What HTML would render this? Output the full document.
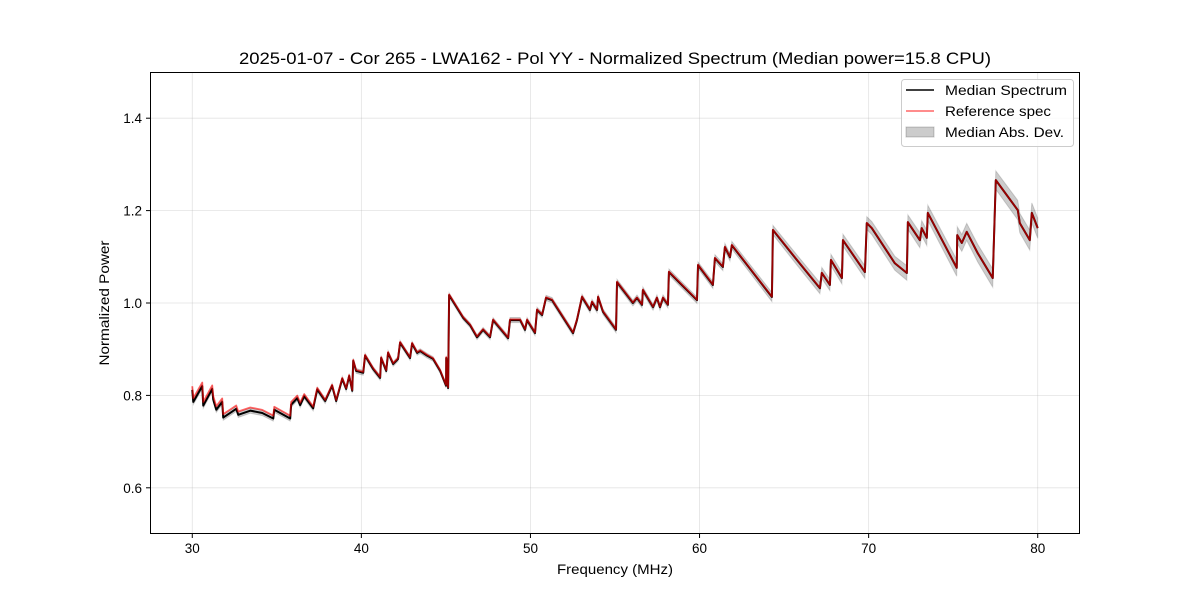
<!DOCTYPE html>
<html><head><meta charset="utf-8"><style>
body{margin:0;background:#fff;}
svg text{font-family:"Liberation Sans","DejaVu Sans",sans-serif;fill:#000;}
</style></head><body>
<svg id="chart" width="1200" height="600" xmlns="http://www.w3.org/2000/svg">
<rect width="1200" height="600" fill="#fff"/>
<text x="615" y="64" font-size="16.5" text-anchor="middle" textLength="752" lengthAdjust="spacingAndGlyphs">2025-01-07 - Cor 265 - LWA162 - Pol YY - Normalized Spectrum (Median power=15.8 CPU)</text>
<g id="grid"></g>
<g id="plot"></g>
<rect x="150.5" y="72.5" width="929" height="461" fill="none" stroke="#000" stroke-width="1"/>
<g id="xticks"></g>
<g id="yticks"></g>
<text x="615" y="574" font-size="13.5" text-anchor="middle" textLength="116" lengthAdjust="spacingAndGlyphs">Frequency (MHz)</text>
<text x="109" y="303" font-size="13.5" text-anchor="middle" textLength="125" lengthAdjust="spacingAndGlyphs" transform="rotate(-90 109 303)">Normalized Power</text>
<g>
<rect x="901.5" y="79.5" width="172" height="67" rx="3" fill="#fff" fill-opacity="0.8" stroke="#ccc"/>
<line x1="906" y1="90" x2="934" y2="90" stroke="#000" stroke-width="1.5"/>
<text x="945" y="95" font-size="13.5" textLength="122" lengthAdjust="spacingAndGlyphs">Median Spectrum</text>
<line x1="906" y1="111" x2="934" y2="111" stroke="#ff0000" stroke-opacity="0.6" stroke-width="1.5"/>
<text x="945" y="116" font-size="13.5" textLength="106" lengthAdjust="spacingAndGlyphs">Reference spec</text>
<rect x="906" y="127" width="28" height="10" fill="#000" fill-opacity="0.2" stroke="#000" stroke-opacity="0.2"/>
<text x="945" y="137" font-size="13.5" textLength="119" lengthAdjust="spacingAndGlyphs">Median Abs. Dev.</text>
</g>
</svg>
<script>
const freqs=[30.00,30.06,30.59,30.65,31.18,31.24,31.42,31.77,31.83,32.36,32.60,32.72,33.43,34.14,34.79,34.85,35.79,35.85,36.21,36.38,36.62,37.15,37.39,37.86,38.27,38.51,38.87,39.10,39.28,39.46,39.52,39.69,40.11,40.22,40.70,41.11,41.17,41.47,41.58,41.88,42.17,42.29,42.88,43.00,43.30,43.48,43.89,44.24,44.66,45.01,45.02,45.13,45.19,46.02,46.43,46.84,47.20,47.61,47.79,48.68,48.79,49.39,49.68,49.80,50.27,50.39,50.69,50.92,51.28,52.52,52.75,53.05,53.52,53.64,53.94,54.00,54.29,55.06,55.12,56.06,56.30,56.60,56.65,57.25,57.48,57.66,57.84,58.13,58.19,58.84,59.85,59.91,60.79,60.91,61.38,61.50,61.80,61.91,64.28,64.34,65.76,67.12,67.23,67.71,67.77,68.42,68.48,69.78,69.89,70.19,71.55,72.26,72.32,73.03,73.14,73.44,73.50,75.21,75.24,75.51,75.80,76.45,77.34,77.52,78.82,78.94,79.53,79.65,80.00];
const median=[0.812,0.786,0.820,0.778,0.814,0.791,0.769,0.786,0.752,0.765,0.771,0.758,0.767,0.762,0.750,0.769,0.750,0.780,0.794,0.779,0.798,0.772,0.813,0.788,0.821,0.788,0.836,0.814,0.842,0.810,0.875,0.853,0.849,0.886,0.857,0.838,0.881,0.853,0.892,0.868,0.879,0.914,0.881,0.912,0.892,0.896,0.886,0.879,0.853,0.821,0.881,0.816,1.017,0.968,0.952,0.926,0.942,0.926,0.963,0.924,0.963,0.963,0.942,0.963,0.935,0.985,0.974,1.011,1.006,0.935,0.963,1.013,0.985,1.002,0.985,1.013,0.981,0.942,1.045,1.000,1.011,0.996,1.028,0.991,1.011,0.991,1.011,0.996,1.067,1.043,1.006,1.082,1.039,1.097,1.078,1.121,1.099,1.125,1.013,1.158,1.093,1.032,1.065,1.039,1.093,1.054,1.136,1.067,1.173,1.162,1.086,1.065,1.175,1.136,1.162,1.141,1.195,1.076,1.147,1.130,1.154,1.108,1.054,1.266,1.201,1.173,1.136,1.195,1.162];
const refOffsetFreqs=[30,36,38,80];
const refOffsetVals=[0.008,0.006,0.002,0.0];
const madFreqs=[30,45,60,70,80];
const madVals=[0.006,0.005,0.007,0.014,0.022];
const xTicks=[30,40,50,60,70,80];
const yTicks=[0.6,0.8,1.0,1.2,1.4];
const X0=27.5,X1=82.5,Y0=0.5,Y1=1.5,L=150,R=1080,T=72,B=534;
const xs=f=>L+(f-X0)/(X1-X0)*(R-L);
const ys=v=>B-(v-Y0)/(Y1-Y0)*(B-T);
const NS="http://www.w3.org/2000/svg";
function interp(fa,va,f){for(let i=1;i<fa.length;i++){if(f<=fa[i]){const t=(f-fa[i-1])/(fa[i]-fa[i-1]);return va[i-1]+t*(va[i]-va[i-1]);}}return va[va.length-1];}
function mk(tag,attrs,parent){const e=document.createElementNS(NS,tag);for(const k in attrs)e.setAttribute(k,attrs[k]);parent.appendChild(e);return e;}
const grid=document.getElementById('grid'),plot=document.getElementById('plot'),xt=document.getElementById('xticks'),yt=document.getElementById('yticks');
xTicks.forEach(t=>{const x=xs(t);
 const g=mk('line',{x1:x,x2:x,y1:T,y2:B,stroke:'#b0b0b0','stroke-opacity':0.35,'stroke-width':0.8},grid);
 
 
 const tk=mk('line',{x1:x,x2:x,y1:B,y2:B+4,stroke:'#000'},xt);
 
 
 const tx=mk('text',{x:x,y:B+19,'font-size':13.5,'text-anchor':'middle'},xt);tx.textContent=t;
 
 
});
yTicks.forEach(t=>{const y=ys(t);
 const g=mk('line',{x1:L,x2:R,y1:y,y2:y,stroke:'#b0b0b0','stroke-opacity':0.35,'stroke-width':0.8},grid);
 
 
 const tk=mk('line',{x1:L-4,x2:L,y1:y,y2:y,stroke:'#000'},yt);
 
 
 const tx=mk('text',{x:L-8,y:y+5,'font-size':13.5,'text-anchor':'end'},yt);tx.textContent=t.toFixed(1);
 
 
});
let up=[],dn=[];
freqs.forEach((f,i)=>{const m=interp(madFreqs,madVals,f);up.push(xs(f)+','+ys(median[i]+m));dn.unshift(xs(f)+','+ys(median[i]-m));});
const band=mk('polygon',{points:up.concat(dn).join(' '),fill:'#000','fill-opacity':0.2,stroke:'#000','stroke-opacity':0.15},plot);


const mline=mk('polyline',{points:freqs.map((f,i)=>xs(f)+','+ys(median[i])).join(' '),fill:'none',stroke:'#000','stroke-width':2,'stroke-linejoin':'round'},plot);


const rline=mk('polyline',{points:freqs.map((f,i)=>xs(f)+','+ys(median[i]+interp(refOffsetFreqs,refOffsetVals,f))).join(' '),fill:'none',stroke:'#ff0000','stroke-opacity':0.6,'stroke-width':1.8,'stroke-linejoin':'round'},plot);


</script>
</body></html>
